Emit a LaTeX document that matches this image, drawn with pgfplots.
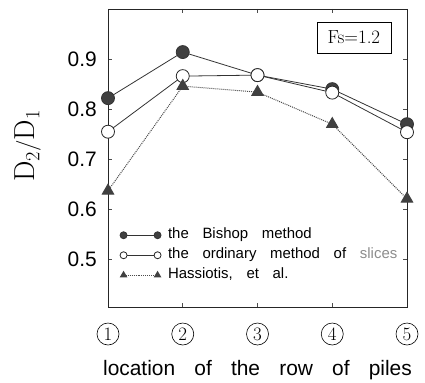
\documentclass[border=0pt]{standalone}
\usepackage{fontspec}
\setsansfont{Liberation Sans}[WordSpace=3.3]
\newfontfamily\tickfont{Liberation Sans}
\usepackage{pgfplots}
\pgfplotsset{compat=1.18}
\begin{document}
\begin{tikzpicture}
\begin{axis}[
  name=ax,
  scale only axis, width=299bp, height=298bp,
  xmin=1, xmax=5, ymin=0.405, ymax=1.0,
  clip=false,
  axis line style={line width=0.9pt, black!85},
  xtick={1,2,3,4,5}, xticklabels={1,2,3,4,5},
  ytick={0.5,0.6,0.7,0.8,0.9},
  tick align=inside, major tick length=4bp,
  tick style={black!70, line width=0.6pt},
  /pgf/number format/assume math mode=true,
  /pgf/number format/fixed, /pgf/number format/precision=1,
  yticklabel style={font=\tickfont\fontsize{21}{21}\selectfont, anchor=east, inner sep=0pt, xshift=-11bp},
  xticklabel style={circle, draw, line width=0.6pt, minimum size=22bp, inner sep=0pt, anchor=center, yshift=-27bp, font=\rmfamily\fontsize{19}{19}\selectfont},
  xlabel={location of the row of piles},
  xlabel style={at={(axis description cs:0.5,0)}, anchor=base, yshift=-68bp, font=\sffamily\fontsize{21}{21}\selectfont},
  ylabel={$\mathrm{D_2/D_1}$},
  ylabel style={at={(axis description cs:-0.268,0.54)}, anchor=center, font=\fontsize{29}{29}\selectfont},
  legend image code/.code={\draw[mark repeat=2,mark phase=1,#1,mark size=3.5bp] plot coordinates {(0bp,0bp)(17bp,0bp)(34bp,0bp)};
    \path (-3.5bp,0bp) (43bp,0bp);},
  legend cell align=left,
  legend style={draw=none, fill=none, at={(axis description cs:0.038,0.27)}, anchor=north west, inner sep=0pt,
    font=\sffamily\fontsize{15}{15}\selectfont, row sep=3bp,
    nodes={inner sep=1bp, text height=11bp, text depth=4bp}},
]
\addplot[black!80, line width=0.8pt, mark=*, mark size=6.5bp, mark options={fill=black!75, draw=black!80}]
  coordinates {(1,0.822) (2,0.914) (3,0.868) (4,0.840) (5,0.770)};
\addlegendentry{the Bishop method}
\addplot[black!80, line width=0.8pt, mark=*, mark size=6.5bp, mark options={fill=white, draw=black!85, line width=0.8pt}]
  coordinates {(1,0.755) (2,0.866) (3,0.868) (4,0.833) (5,0.754)};
\addlegendentry{the ordinary method of {\color{black!45}slices}}
\addplot[black!70, line width=1pt, densely dotted, mark=triangle*, mark size=6.5bp, mark options={solid, fill=black!75, draw=black!75}]
  coordinates {(1,0.637) (2,0.846) (3,0.834) (4,0.770) (5,0.621)};
\addlegendentry{Hassiotis, et al.}
\node[draw, line width=0.8pt, minimum width=74bp, minimum height=31bp, inner sep=0pt, font=\rmfamily\fontsize{19}{19}\selectfont] at (axis cs:4.29,0.943) {Fs=1.2};
\end{axis}
\path (ax.south west) ++(-108bp,-73bp) coordinate (bbA);
\path (ax.north east) ++(18bp,9bp) coordinate (bbB);
\path (bbA) rectangle (bbB);
\end{tikzpicture}
\end{document}
